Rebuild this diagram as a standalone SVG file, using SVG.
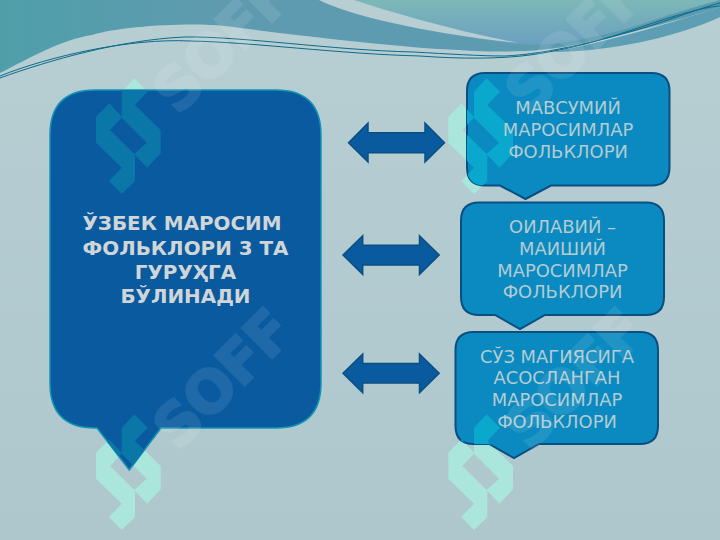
<svg xmlns="http://www.w3.org/2000/svg" xmlns:xlink="http://www.w3.org/1999/xlink" width="720" height="540" viewBox="0 0 720 540">
<style>
.box{fill:#0a8ac0;stroke:#0b4f80;stroke-width:2}
.arrow{fill:#0a5aa0;stroke:#0b4f80;stroke-width:1.5}
.lbl{font-family:"DejaVu Sans",sans-serif;font-size:17.9px;fill:#b4ccd2;text-anchor:middle}
.main{font-family:"DejaVu Sans",sans-serif;font-size:19.9px;font-weight:bold;fill:#d0d6d8;text-anchor:middle}
.wm{font-family:"DejaVu Sans",sans-serif;font-size:58px;font-weight:bold;fill:#fff;stroke:#fff;stroke-width:2.5;opacity:.09;letter-spacing:-1px}
.thin{fill:none;stroke:#0e6a8a;stroke-width:1}
</style>
<defs>
<linearGradient id="bg" x1="0" y1="0" x2="0" y2="1"><stop offset="0" stop-color="#b7cfd3"/><stop offset="1" stop-color="#aec7cd"/></linearGradient>
<linearGradient id="w1" x1="0" y1="0" x2="1" y2="0"><stop offset="0" stop-color="#4f9fa9"/><stop offset=".3" stop-color="#5f9bb0"/><stop offset="1" stop-color="#5a9bb0"/></linearGradient>
<linearGradient id="w2" x1="0" y1="0" x2="0" y2="1"><stop offset="0" stop-color="#7db8b8"/><stop offset="1" stop-color="#6ba0c0"/></linearGradient>
<path id="logo" fill-rule="evenodd" d="M134.3 78.3L147.7 91.7L135 105L160.7 130L160.7 153.3L147.3 167.7L135 155L135 181L121.7 194L109 181L121.7 167.7L96 142.7L96 116.7L109.3 103.3L121.7 116.7L121.700 91.700ZM110 130L121.700 117.700L146.700 142.700L134.300 154Z"/>
<path id="mainShape" d="M95 90H276Q321 90 321 135V383Q321 428 276 428H161L129.300 470L97 428H95Q50 428 50 383V135Q50 90 95 90Z"/>
<path id="b1Shape" d="M485 73H651.500Q669.500 73 669.500 91V167.500Q669.500 185.500 651.500 185.500H551L525.500 199L500 185.500H485Q467 185.500 467 167.500V91Q467 73 485 73Z"/>
<path id="b3Shape" d="M473.500 332H640Q658 332 658 350V426Q658 444 640 444H539L514 458L489 444H473.500Q455.500 444 455.500 426V350Q455.500 332 473.500 332Z"/>
<clipPath id="cMain"><use xlink:href="#mainShape"/></clipPath>
<clipPath id="cB1"><use xlink:href="#b1Shape"/></clipPath>
<clipPath id="cB3"><use xlink:href="#b3Shape"/></clipPath>
</defs>
<rect width="720" height="540" fill="url(#bg)"/>
<g id="waves">
<path fill="url(#w1)" d="M0 73C30 58 60 40 92 35C120 26 190 22 225 26C270 32 400 48 459 50C500 53 540 52 574 45C620 36 680 20 720 7V0H0Z"/>
<path fill="url(#w2)" d="M354 0C400 22 470 40 519 44C560 48 620 32 660 18C690 8 710 3 720 0Z"/>
<path fill="#b7cfd3" d="M319 0C350 16 430 34 519 43C460 32 390 12 354 0Z"/>
<path fill="#5d9eb4" d="M551 52C610 42 680 20 720 7V17C680 36 610 52 551 52Z"/>
<path class="thin" d="M0 78C50 60 120 40 184 37C240 36 330 50 413 52C450 54 480 56 505 56C550 54 610 38 643 28C670 20 700 8 720 3"/>
<path class="thin" d="M0 76C50 56 130 38 190 41C250 42 340 54 420 56C460 59 500 59 530 55C580 48 620 34 650 24C680 14 705 7 720 6"/>
</g>
<g id="watermark-under" fill="#abe6dc">
<use xlink:href="#logo"/>
<use xlink:href="#logo" y="336"/>
<use xlink:href="#logo" x="352.300"/>
<use xlink:href="#logo" x="352.300" y="336"/>
</g>
<g id="connectors">
<path class="arrow" d="M348.500 142.700L368 123V132.700H425V123L444.500 142.700L425 162V152.700H368V162Z"/>
<path class="arrow" d="M343 255L362.700 235.700V245.200H419.500V235.700L439.200 255L419.500 274.500V265H362.700V274.500Z"/>
<path class="arrow" d="M343 373.300L362.700 354V363.500H419.500V354L439.200 373.300L419.500 392.700V383H362.700V392.700Z"/>
</g>
<g id="node-main">
<use xlink:href="#mainShape" fill="#0a5aa0" stroke="#1295b5" stroke-width="1.500"/>
<g clip-path="url(#cMain)" fill="#0b76a8"><use xlink:href="#logo"/><use xlink:href="#logo" y="336"/></g>
<text class="main" x="182" y="230">ЎЗБЕК МАРОСИМ</text>
<text class="main" x="185.500" y="254.500">ФОЛЬКЛОРИ 3 ТА</text>
<text class="main" x="185.500" y="278.500">ГУРУҲГА</text>
<text class="main" x="185.500" y="302.500">БЎЛИНАДИ</text>
</g>
<g id="node-1">
<use xlink:href="#b1Shape" class="box"/>
<g clip-path="url(#cB1)" fill="#0aa8cc"><use xlink:href="#logo" x="352.300"/></g>
<text class="lbl" x="568" y="114">МАВСУМИЙ</text>
<text class="lbl" x="568" y="136">МАРОСИМЛАР</text>
<text class="lbl" x="568" y="157.500">ФОЛЬКЛОРИ</text>
</g>
<g id="node-2">
<path class="box" d="M479 202.500H646Q664 202.500 664 220.500V297Q664 315 646 315H545L520 329L495 315H479Q461 315 461 297V220.500Q461 202.500 479 202.500Z"/>
<text class="lbl" x="562.500" y="233">ОИЛАВИЙ –</text>
<text class="lbl" x="562.500" y="254.500">МАИШИЙ</text>
<text class="lbl" x="562.500" y="276.500">МАРОСИМЛАР</text>
<text class="lbl" x="562.500" y="298">ФОЛЬКЛОРИ</text>
</g>
<g id="node-3">
<use xlink:href="#b3Shape" class="box"/>
<g clip-path="url(#cB3)" fill="#0aa8cc"><use xlink:href="#logo" x="352.300" y="336"/></g>
<text class="lbl" x="557" y="363">СЎЗ МАГИЯСИГА</text>
<text class="lbl" x="557" y="384">АСОСЛАНГАН</text>
<text class="lbl" x="557" y="406">МАРОСИМЛАР</text>
<text class="lbl" x="557" y="427.500">ФОЛЬКЛОРИ</text>
</g>
<g id="watermark-text">
<text class="wm" transform="translate(178 116) rotate(-45)">SOFF</text>
<text class="wm" transform="translate(178 452) rotate(-45)">SOFF</text>
<text class="wm" transform="translate(530 116) rotate(-45)">SOFF</text>
<text class="wm" transform="translate(530 452) rotate(-45)">SOFF</text>
</g>
</svg>
